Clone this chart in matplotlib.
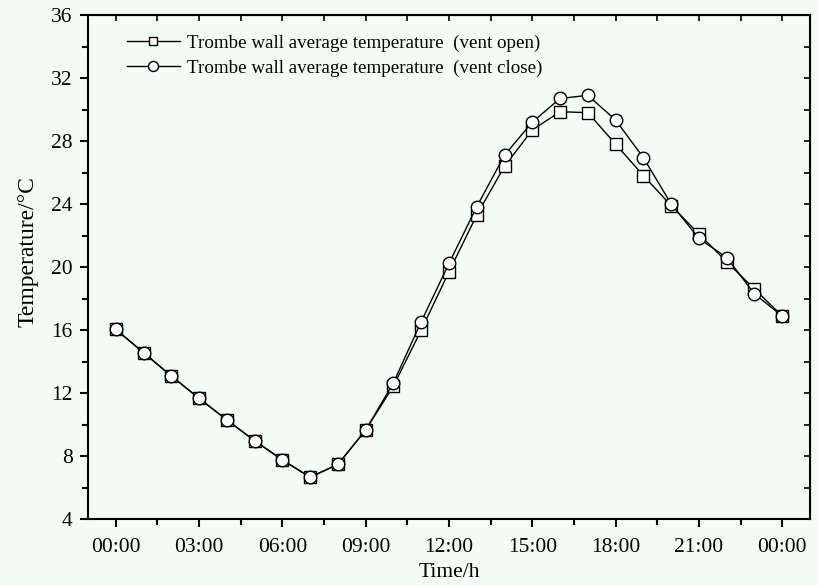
import matplotlib
matplotlib.use("Agg")
import matplotlib.pyplot as plt
from matplotlib.ticker import MultipleLocator

plt.rcParams['font.family'] = ['Liberation Serif', 'DejaVu Serif']
plt.rcParams['font.size'] = 15.5

hours = list(range(25))
xtick_pos = [0, 3, 6, 9, 12, 15, 18, 21, 24]
xtick_labels = ["00:00", "03:00", "06:00", "09:00", "12:00", "15:00", "18:00", "21:00", "00:00"]

# vent open (squares)
temp_open = [16.04, 14.56, 13.08, 11.66, 10.29, 8.97, 7.75, 6.65, 7.47, 9.65,
             12.45, 16.0, 19.7, 23.3, 26.4, 28.7, 29.86, 29.8, 27.8, 25.8,
             23.9, 22.1, 20.33, 18.6, 16.89]
# vent close (circles)
temp_close = [16.04, 14.56, 13.08, 11.66, 10.29, 8.97, 7.75, 6.65, 7.47, 9.65,
              12.65, 16.53, 20.23, 23.83, 27.1, 29.2, 30.7, 30.9, 29.33, 26.94,
              24.0, 21.82, 20.6, 18.29, 16.89]

bg = '#F3FDF5'
fig = plt.figure(figsize=(8.18, 5.85), dpi=100, facecolor=bg)
ax = fig.add_axes([88/818, 1 - 519/585, (810-88)/818, (519-15)/585])
ax.set_facecolor(bg)

ax.plot(hours, temp_open, 'k-', lw=1.0, marker='s', ms=8, mfc='white', mec='black', mew=1.0,
        label="Trombe wall average temperature  (vent open)")
ax.plot(hours, temp_close, 'k-', lw=1.0, marker='o', ms=9, mfc='white', mec='black', mew=1.0,
        label="Trombe wall average temperature  (vent close)")

ax.set_xlim(-1, 25)
ax.set_ylim(4, 36)
ax.set_xticks(xtick_pos)
ax.set_xticklabels(xtick_labels)
ax.xaxis.set_minor_locator(MultipleLocator(1.5))
ax.yaxis.set_major_locator(MultipleLocator(4))
ax.yaxis.set_minor_locator(MultipleLocator(2))

for s in ax.spines.values():
    s.set_linewidth(1.5)
ax.tick_params(which='major', direction='out', length=6, width=1.5, top=False, right=False, pad=5)
ax.tick_params(axis='x', which='major', pad=8)
ax.tick_params(which='minor', direction='out', length=4, width=1.5, top=False, right=False)

# inward ticks on top and right
ax2 = ax.secondary_xaxis('top')
ax2.set_xticks(xtick_pos)
ax2.xaxis.set_minor_locator(MultipleLocator(1.5))
ax2.tick_params(which='both', direction='in', length=4, width=1.2, labeltop=False)
ax3 = ax.secondary_yaxis('right')
ax3.yaxis.set_major_locator(MultipleLocator(4))
ax3.yaxis.set_minor_locator(MultipleLocator(2))
ax3.tick_params(which='both', direction='in', length=4, width=1.2, labelright=False)

ax.set_xlabel("Time/h", labelpad=4)
ax.set_ylabel("Temperature/°C", fontsize=17)
ax.yaxis.set_label_coords(-0.069, 0.53)

ax.legend(loc='upper left', frameon=False, bbox_to_anchor=(0.03, 0.995), handlelength=2.8,
          handletextpad=0.35, labelspacing=0.4, fontsize=13.7, markerscale=0.8)

fig.savefig("out.png", dpi=100, facecolor=bg)
